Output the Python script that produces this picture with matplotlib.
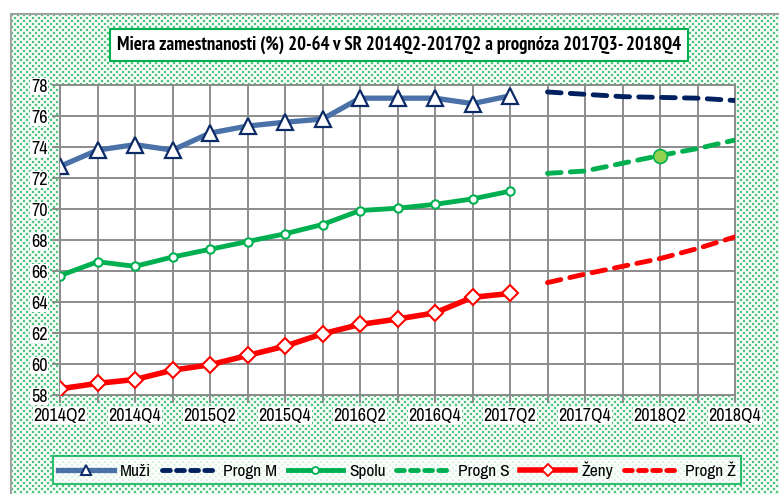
import numpy as np
import matplotlib
matplotlib.use('Agg')
import matplotlib.pyplot as plt
from matplotlib.patches import Rectangle
from matplotlib.lines import Line2D

quarters = ['2014Q2', '2014Q3', '2014Q4', '2015Q1', '2015Q2', '2015Q3', '2015Q4',
            '2016Q1', '2016Q2', '2016Q3', '2016Q4', '2017Q1', '2017Q2',
            '2017Q3', '2017Q4', '2018Q1', '2018Q2', '2018Q3', '2018Q4']

muzi  = [72.75, 73.8, 74.15, 73.8, 74.9, 75.35, 75.6, 75.8, 77.15, 77.15, 77.15, 76.8, 77.3]
spolu = [65.7, 66.6, 66.3, 66.9, 67.4, 67.9, 68.4, 69.0, 69.9, 70.05, 70.3, 70.65, 71.15]
zeny  = [58.4, 58.75, 59.0, 59.6, 59.95, 60.55, 61.15, 61.95, 62.55, 62.9, 63.3, 64.3, 64.55]

progn_m = [77.55, 77.4, 77.25, 77.2, 77.15, 77.0]
progn_s = [72.3, 72.45, 72.95, 73.45, 73.9, 74.45]
progn_z = [65.25, 65.8, 66.3, 66.8, 67.45, 68.2]

labels = ['Muži', 'Progn M', 'Spolu', 'Progn S', 'Ženy', 'Progn Ž']
title = 'Miera zamestnanosti (%) 20-64 v SR 2014Q2-2017Q2 a prognóza 2017Q3- 2018Q4'

plt.rcParams['font.family'] = ['Archivo Narrow', 'Liberation Sans', 'DejaVu Sans']

W, H = 779, 494
fig = plt.figure(figsize=(W / 100, H / 100), dpi=100)
fig.patch.set_facecolor('white')

# dotted green background (chart area), drawn as a pixel pattern
x0, ytop = 11, 14
bh, bw = H - ytop, W - x0
pat = np.ones((bh, bw, 3))
yy, xx = np.mgrid[0:bh, 0:bw]
dots = ((yy % 6 < 2) & (xx % 6 < 2)) | (((yy + 3) % 6 < 2) & ((xx + 3) % 6 < 2))
pat[dots] = np.array([0x4c, 0xc4, 0x7c]) / 255
soft = ((yy % 3 == 2) | (xx % 3 == 2)) & ~dots
pat[soft] = np.array([0xe6, 0xf6, 0xeb]) / 255
fig.figimage(pat, xo=x0, yo=0, zorder=-10)
frame = Rectangle((x0 / W, -0.01), 1, 1 - ytop / H + 0.01, transform=fig.transFigure,
                  facecolor='none', edgecolor='#a0a0a0', lw=1.5, zorder=-9)
fig.patches.append(frame)

ax = fig.add_axes([60 / W, 1 - 395 / H, 675 / W, 310 / H])
ax.set_facecolor('white')

n_hist = len(muzi)
xh = np.arange(n_hist)
xp = np.arange(n_hist, n_hist + len(progn_m))

ax.plot(xh, muzi, color='#4a72a8', lw=3.8, marker='^', ms=12, mfc='white',
        mec='#0b2a66', mew=1.6, zorder=5)
ax.plot(xp, progn_m, color='#002060', lw=3.5, dashes=(2.8, 1.9), dash_capstyle='round', zorder=4)
ax.plot(xh, spolu, color='#00b050', lw=3.5, marker='o', ms=6, mfc='white',
        mec='#00b050', mew=1.5, zorder=5)
ax.plot(xp, progn_s, color='#00b050', lw=3.5, dashes=(2.8, 1.9), dash_capstyle='round', zorder=4)
ax.plot(xp[3], progn_s[3], marker='o', ms=10, mfc='#92d050', mec='#00b050', mew=1.2, zorder=6)
ax.plot(xh, zeny, color='#ff0000', lw=4, marker='D', ms=8, mfc='white',
        mec='#ff0000', mew=1.5, zorder=5)
ax.plot(xp, progn_z, color='#ff0000', lw=3.5, dashes=(2.8, 1.9), dash_capstyle='round', zorder=4)

ax.set_xlim(0, len(quarters) - 1)
ax.set_ylim(58, 78)
ax.set_xticks(np.arange(len(quarters)))
ax.set_xticklabels([q if i % 2 == 0 else '' for i, q in enumerate(quarters)])
ax.set_yticks(np.arange(58, 79, 2))
ax.grid(True, color='#8c8c8c', lw=1.4)
ax.set_axisbelow(True)
for s in ax.spines.values():
    s.set_color('#8c8c8c')
    s.set_linewidth(1.4)
ax.tick_params(axis='both', length=6, width=1.4, color='#8c8c8c', labelsize=13, pad=3)
for lab in ax.get_xticklabels() + ax.get_yticklabels():
    lab.set_bbox(dict(facecolor='white', edgecolor='none', pad=0.5))

fig.text(0.512, 1 - 45 / H, title, ha='center', va='center', fontsize=13.5,
         fontweight='bold', family=['PT Sans Narrow', 'Roboto Condensed', 'DejaVu Sans'],
         bbox=dict(facecolor='white', edgecolor='#00b050', lw=1.5, pad=5))

handles = [
    Line2D([], [], color='#4a72a8', lw=3.8, marker='^', ms=7, mfc='white', mec='#0b2a66', mew=1.4),
    Line2D([], [], color='#002060', lw=3.5, dashes=(1.6, 1.3), dash_capstyle='round'),
    Line2D([], [], color='#00b050', lw=3.5, marker='o', ms=5, mfc='white', mec='#00b050', mew=1.3),
    Line2D([], [], color='#00b050', lw=3.5, dashes=(1.6, 1.3), dash_capstyle='round'),
    Line2D([], [], color='#ff0000', lw=4, marker='D', ms=6, mfc='white', mec='#ff0000', mew=1.3),
    Line2D([], [], color='#ff0000', lw=3.5, dashes=(1.6, 1.3), dash_capstyle='round'),
]
leg = fig.legend(handles, labels, loc='center', bbox_to_anchor=(0.51, 1 - 470 / H),
                 ncol=6, fontsize=12.5, frameon=True, fancybox=False, handlelength=3.2,
                 columnspacing=0.6, handletextpad=0.35, borderpad=0.3)
leg.get_frame().set_edgecolor('#00b050')
leg.get_frame().set_linewidth(1.5)

fig.savefig('out.png', dpi=100)
